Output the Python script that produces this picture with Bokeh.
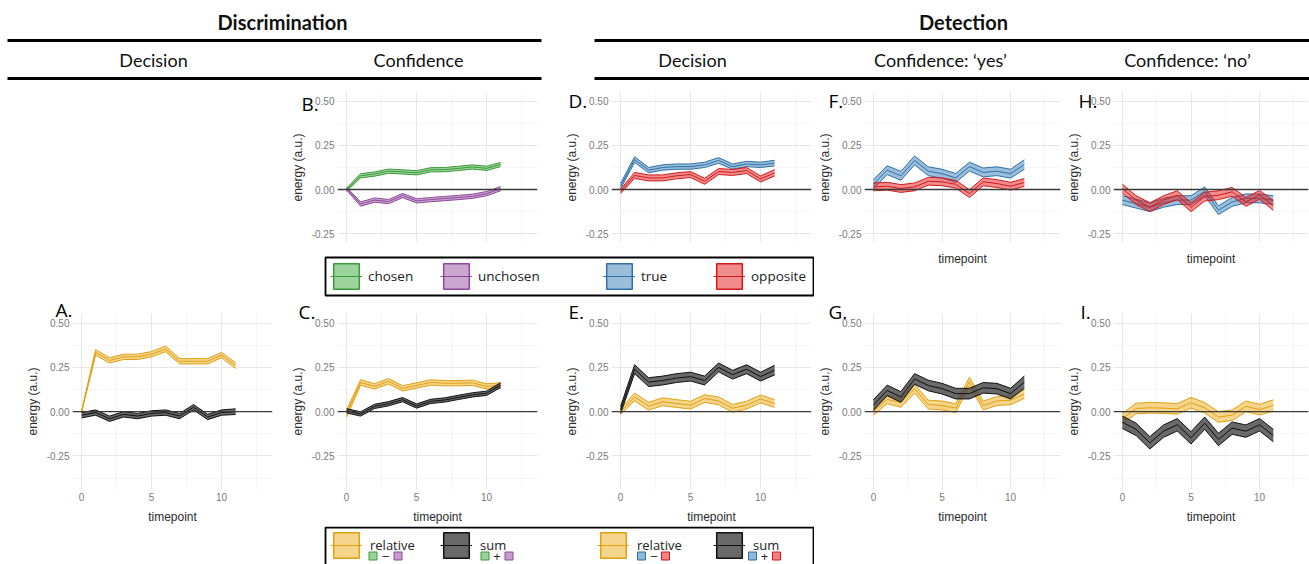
import numpy as np
from bokeh.plotting import figure
from bokeh.layouts import column, row
from bokeh.models import (Range1d, FixedTicker, Span, Legend, LegendItem,
                          Spacer, PrintfTickFormatter, ColumnDataSource)
from bokeh.embed import file_html
from bokeh.resources import INLINE
from bokeh.core.properties import value

# x axis: timepoints, y axis: energy (a.u.)
timepoints = list(range(12))
x_ticks = [0, 5, 10]
x_minor = [2.5, 7.5, 12.5]
y_ticks = [-0.25, 0.0, 0.25, 0.5]
y_minor = [-0.375, -0.125, 0.125, 0.375]

# A. Discrimination / decision
a_relative = [0.00, 0.335, 0.29, 0.31, 0.31, 0.325, 0.355, 0.285, 0.285, 0.285, 0.32, 0.26]
a_relative_se = [0.004, 0.016, 0.015, 0.015, 0.015, 0.015, 0.016, 0.015, 0.015, 0.015, 0.015, 0.016]
a_sum = [-0.02, -0.005, -0.04, -0.015, -0.025, -0.01, -0.005, -0.025, 0.025, -0.03, -0.005, 0.0]
a_sum_se = [0.015, 0.015, 0.015, 0.015, 0.015, 0.015, 0.015, 0.015, 0.015, 0.015, 0.015, 0.016]

# B. Discrimination / confidence
b_chosen = [0.0, 0.078, 0.088, 0.104, 0.1, 0.095, 0.112, 0.113, 0.12, 0.128, 0.12, 0.142]
b_chosen_se = [0.008, 0.012, 0.012, 0.012, 0.012, 0.012, 0.012, 0.012, 0.012, 0.012, 0.012, 0.012]
b_unchosen = [0.005, -0.082, -0.06, -0.068, -0.034, -0.064, -0.057, -0.051, -0.045, -0.038, -0.023, 0.005]
b_unchosen_se = [0.008, 0.012, 0.012, 0.012, 0.012, 0.012, 0.012, 0.012, 0.012, 0.012, 0.012, 0.012]

# C. Discrimination / confidence, relative and sum
c_relative = [-0.01, 0.165, 0.143, 0.172, 0.132, 0.148, 0.165, 0.161, 0.161, 0.163, 0.143, 0.148]
c_relative_se = [0.02, 0.016, 0.015, 0.015, 0.015, 0.015, 0.015, 0.015, 0.015, 0.015, 0.015, 0.015]
c_sum = [0.005, -0.013, 0.03, 0.045, 0.068, 0.032, 0.058, 0.066, 0.081, 0.095, 0.104, 0.15]
c_sum_se = [0.012, 0.012, 0.012, 0.012, 0.012, 0.012, 0.012, 0.012, 0.012, 0.012, 0.012, 0.014]

# D. Detection / decision
d_true = [0.02, 0.17, 0.11, 0.125, 0.13, 0.13, 0.14, 0.165, 0.13, 0.145, 0.14, 0.15]
d_true_se = [0.015, 0.016, 0.015, 0.015, 0.015, 0.015, 0.015, 0.016, 0.015, 0.015, 0.015, 0.016]
d_opposite = [-0.01, 0.08, 0.066, 0.066, 0.078, 0.085, 0.047, 0.102, 0.097, 0.108, 0.06, 0.095]
d_opposite_se = [0.012, 0.017, 0.017, 0.017, 0.017, 0.017, 0.017, 0.017, 0.017, 0.017, 0.017, 0.018]

# E. Detection / decision, relative and sum
e_relative = [0.0, 0.083, 0.031, 0.056, 0.046, 0.037, 0.074, 0.061, 0.019, 0.037, 0.072, 0.046]
e_relative_se = [0.015, 0.022, 0.022, 0.022, 0.022, 0.022, 0.022, 0.022, 0.022, 0.022, 0.022, 0.022]
e_sum = [0.01, 0.24, 0.167, 0.176, 0.19, 0.198, 0.176, 0.25, 0.209, 0.24, 0.198, 0.235]
e_sum_se = [0.02, 0.025, 0.025, 0.025, 0.025, 0.025, 0.025, 0.025, 0.025, 0.025, 0.025, 0.027]

# F. Detection / confidence 'yes'
f_true = [0.03, 0.11, 0.078, 0.165, 0.104, 0.09, 0.066, 0.13, 0.097, 0.104, 0.09, 0.142]
f_true_se = [0.025, 0.025, 0.025, 0.025, 0.025, 0.025, 0.025, 0.025, 0.025, 0.025, 0.025, 0.027]
f_opposite = [0.015, 0.019, 0.006, 0.015, 0.047, 0.044, 0.03, -0.023, 0.044, 0.034, 0.019, 0.04]
f_opposite_se = [0.022, 0.022, 0.022, 0.022, 0.022, 0.022, 0.022, 0.022, 0.022, 0.022, 0.022, 0.022]

# G. Detection / confidence 'yes', relative and sum
g_relative = [0.0, 0.07, 0.05, 0.13, 0.04, 0.035, 0.02, 0.17, 0.035, 0.06, 0.065, 0.1]
g_relative_se = [0.02, 0.025, 0.025, 0.025, 0.025, 0.025, 0.025, 0.025, 0.025, 0.025, 0.025, 0.025]
g_sum = [0.037, 0.12, 0.083, 0.185, 0.148, 0.13, 0.102, 0.102, 0.135, 0.13, 0.102, 0.167]
g_sum_se = [0.03, 0.03, 0.03, 0.03, 0.03, 0.03, 0.03, 0.03, 0.03, 0.03, 0.03, 0.035]

# H. Detection / confidence 'no'
h_true = [-0.06, -0.08, -0.1, -0.075, -0.06, -0.06, -0.01, -0.117, -0.07, -0.05, -0.05, -0.06]
h_true_se = [0.025, 0.025, 0.025, 0.025, 0.025, 0.025, 0.025, 0.025, 0.025, 0.025, 0.025, 0.025]
h_opposite = [0.005, -0.06, -0.1, -0.06, -0.032, -0.1, -0.04, -0.032, -0.013, -0.07, -0.03, -0.09]
h_opposite_se = [0.025, 0.025, 0.025, 0.025, 0.025, 0.025, 0.025, 0.025, 0.025, 0.025, 0.025, 0.028]

# I. Detection / confidence 'no', relative and sum
i_relative = [-0.04, 0.018, 0.022, 0.02, 0.016, 0.05, 0.022, -0.03, -0.02, 0.03, 0.012, 0.035]
i_relative_se = [0.03, 0.03, 0.03, 0.03, 0.03, 0.03, 0.03, 0.03, 0.03, 0.03, 0.03, 0.032]
i_sum = [-0.06, -0.1, -0.176, -0.11, -0.074, -0.148, -0.065, -0.157, -0.093, -0.11, -0.074, -0.135]
i_sum_se = [0.035, 0.035, 0.035, 0.035, 0.035, 0.035, 0.035, 0.035, 0.035, 0.035, 0.035, 0.035]

# line colour, fill colour, fill alpha
STYLE = {
    "chosen": ("#3A9B3A", "#4DAF4A", 0.55),
    "unchosen": ("#8E479C", "#984EA3", 0.5),
    "true": ("#2F70A8", "#377EB8", 0.5),
    "opposite": ("#D41A1C", "#E41A1C", 0.5),
    "relative": ("#E0A012", "#EDB12E", 0.55),
    "sum": ("#111111", "#444444", 0.8),
}

TICK_FONT = "Liberation Sans"
TEXT_FONT = "Open Sans"


def ribbon(p, mean, se, kind):
    line_c, fill_c, alpha = STYLE[kind]
    src = ColumnDataSource(dict(
        t=timepoints, mean=mean,
        lo=[m - s for m, s in zip(mean, se)],
        hi=[m + s for m, s in zip(mean, se)]))
    p.varea(x="t", y1="lo", y2="hi", source=src, fill_color=fill_c, fill_alpha=alpha)
    for col in ("lo", "hi", "mean"):
        p.line(x="t", y=col, source=src, line_color=line_c, line_width=1)


def make_panel(width, left, frame_w, height, top, bottom, y_lim, letter, letter_dx, letter_dy,
               series, x_title=None, x_labels=True):
    x_lim = (-0.65, -0.65 + frame_w / 14.0)
    p = figure(width=width, height=height, output_backend="svg", toolbar_location=None,
               x_range=Range1d(*x_lim), y_range=Range1d(*y_lim),
               min_border_left=left, min_border_right=width - left - frame_w,
               min_border_top=top, min_border_bottom=bottom)
    p.outline_line_color = None
    xt = FixedTicker(ticks=x_ticks, minor_ticks=x_minor)
    yt = FixedTicker(ticks=y_ticks, minor_ticks=y_minor)
    p.xaxis.ticker = xt if x_labels else FixedTicker(ticks=[])
    p.xgrid.ticker = xt
    p.yaxis.ticker = yt
    p.ygrid.ticker = yt
    p.yaxis.formatter = PrintfTickFormatter(format="%.2f")
    for ax in (p.xaxis[0], p.yaxis[0]):
        ax.axis_line_color = None
        ax.major_tick_line_color = None
        ax.minor_tick_line_color = None
        ax.major_tick_out = 0
        ax.major_tick_in = 0
        ax.minor_tick_out = 0
        ax.major_label_text_font = TICK_FONT
        ax.major_label_text_font_size = "10px"
        ax.major_label_text_color = "#7a7a7a"
        ax.major_label_standoff = 3
        ax.axis_label_text_font = TICK_FONT
        ax.axis_label_text_font_size = "12px"
        ax.axis_label_text_font_style = "normal"
        ax.axis_label_text_color = "#2b2b2b"
    p.yaxis.axis_label = "energy (a.u.)"
    p.yaxis.axis_label_standoff = 4
    if x_title:
        p.xaxis.axis_label = x_title
    p.xaxis.axis_label_standoff = 6 if x_labels else 9
    for g in (p.xgrid[0], p.ygrid[0]):
        g.grid_line_color = "#E6E6E6"
        g.grid_line_width = 1
        g.minor_grid_line_color = "#F3F3F3"
        g.minor_grid_line_width = 0.8
    p.add_layout(Span(location=0, dimension="width", line_color="#3a3a3a", line_width=1.4))
    for mean, se, kind in series:
        ribbon(p, mean, se, kind)
    # panel letter as the plot title, pulled left of and down beside the frame top
    p.title.text = letter
    p.title.align = "left"
    p.title.offset = letter_dx
    p.title.vertical_align = "bottom"
    p.title.standoff = -2 * (letter_dy + 5)
    p.title.text_font = TEXT_FONT
    p.title.text_font_size = "19px"
    p.title.text_font_style = "normal"
    p.title.text_color = "black"
    return p


ROW1 = (-0.30, 0.55)
ROW2 = (-0.44, 0.555)

panel_b = make_panel(274, 50, 200, 171, 8, 13, ROW1, "B.", -36, 19,
                     [(b_chosen, b_chosen_se, "chosen"), (b_unchosen, b_unchosen_se, "unchosen")],
                     x_labels=False)
panel_d = make_panel(252, 50, 200, 171, 8, 13, ROW1, "D.", -43, 16,
                     [(d_true, d_true_se, "true"), (d_opposite, d_opposite_se, "opposite")],
                     x_labels=False)
panel_f = make_panel(249, 46, 200, 213, 8, 55, ROW1, "F.", -36, 16,
                     [(f_true, f_true_se, "true"), (f_opposite, f_opposite_se, "opposite")],
                     x_title="timepoint", x_labels=False)
panel_h = make_panel(247, 46, 199, 213, 8, 55, ROW1, "H.", -35, 16,
                     [(h_true, h_true_se, "true"), (h_opposite, h_opposite_se, "opposite")],
                     x_title="timepoint", x_labels=False)

panel_a = make_panel(287, 72, 200, 229, 16, 36, ROW2, "A.", -17, 4,
                     [(a_relative, a_relative_se, "relative"), (a_sum, a_sum_se, "sum")],
                     x_title="timepoint")
panel_c = make_panel(274, 50, 200, 229, 16, 36, ROW2, "C.", -39, 6,
                     [(c_relative, c_relative_se, "relative"), (c_sum, c_sum_se, "sum")],
                     x_title="timepoint")
panel_e = make_panel(252, 50, 200, 229, 16, 36, ROW2, "E.", -43, 6,
                     [(e_relative, e_relative_se, "relative"), (e_sum, e_sum_se, "sum")],
                     x_title="timepoint")
panel_g = make_panel(249, 46, 200, 229, 16, 36, ROW2, "G.", -36, 6,
                     [(g_relative, g_relative_se, "relative"), (g_sum, g_sum_se, "sum")],
                     x_title="timepoint")
panel_i = make_panel(247, 46, 199, 229, 16, 36, ROW2, "I.", -33, 6,
                     [(i_relative, i_relative_se, "relative"), (i_sum, i_sum_se, "sum")],
                     x_title="timepoint")

NO_DATA = np.array([np.nan])


def legend_entry(fig, kind, label, vx, vy, glyph, standoff, font_size):
    line_c, fill_c, alpha = STYLE[kind]
    pr = fig.patch(x=NO_DATA, y=NO_DATA, fill_color=fill_c, fill_alpha=alpha,
                   line_color=line_c, line_width=1.5)
    lr = fig.line(x=NO_DATA, y=NO_DATA, line_color=line_c, line_width=1.2)
    fig.add_layout(Legend(items=[LegendItem(label=label, renderers=[pr, lr])],
                          location=(vx, vy), padding=0, margin=0,
                          border_line_color=None, background_fill_alpha=0,
                          glyph_width=glyph, glyph_height=glyph, label_standoff=standoff,
                          label_text_font=TEXT_FONT, label_text_font_size=font_size,
                          label_text_color="#222222"))


# top legend (chosen / unchosen / true / opposite)
legend_top_kinds = ["chosen", "unchosen", "true", "opposite"]
leg1 = figure(width=491, height=42, output_backend="svg", toolbar_location=None,
              x_axis_type=None, y_axis_type=None, x_range=Range1d(0, 1), y_range=Range1d(0, 1),
              min_border_left=2, min_border_right=1, min_border_top=2, min_border_bottom=2)
leg1.outline_line_color = "black"
leg1.outline_line_width = 1.8
for kind, vx in zip(legend_top_kinds, [5, 115, 278, 388]):
    legend_entry(leg1, kind, kind, vx, 3, 32, 6, "13.5px")

# bottom legend (relative / sum, with their colour keys)
legend_bottom_kinds = ["relative", "sum", "relative", "sum"]
leg2 = figure(width=491, height=38, output_backend="svg", toolbar_location=None,
              x_axis_type=None, y_axis_type=None, x_range=Range1d(0, 491), y_range=Range1d(38, 0),
              min_border=0)
leg2.outline_line_color = None
leg2.multi_line(xs=[[2, 2, 490, 490]], ys=[[38, 1, 1, 38]], line_color="black", line_width=1.8)
for kind, vx in zip(legend_bottom_kinds, [7, 117, 274, 390]):
    legend_entry(leg2, kind, kind, vx, 3, 32, 8, "13px")

key_kinds = ["chosen", "unchosen", "chosen", "unchosen", "true", "opposite", "true", "opposite"]
key_x = [49.5, 74.5, 161.5, 185.5, 318, 342, 429, 453]
leg2.rect(x=key_x, y=[29.5] * 8, width=8, height=8,
          fill_color=[STYLE[k][1] for k in key_kinds], fill_alpha=0.55,
          line_color=[STYLE[k][0] for k in key_kinds], line_width=1)
leg2.text(x=[62, 173.5, 330.5, 441], y=[29.5] * 4, text=["\u2212", "+", "\u2212", "+"],
          text_font=value(TEXT_FONT), text_font_size=value("13px"), text_color="#222222",
          text_align="center", text_baseline="middle")

# header with section titles and rules
header = figure(width=1309, height=84, output_backend="svg", toolbar_location=None,
                x_axis_type=None, y_axis_type=None, x_range=Range1d(0, 1309), y_range=Range1d(84, 0),
                min_border=0)
header.outline_line_color = None
header.text(x=[282, 963], y=[21, 21], text=["Discrimination", "Detection"],
            text_font=value("Lato"), text_font_style="bold", text_font_size=value("20px"),
            text_color="#111111", text_align="center", text_baseline="middle")
header.text(x=[153, 418, 692, 940, 1187], y=[59] * 5,
            text=["Decision", "Confidence", "Decision", "Confidence: \u2018yes\u2019", "Confidence: \u2018no\u2019"],
            text_font=value("Lato"), text_font_size=value("18px"),
            text_color="#111111", text_align="center", text_baseline="middle")
header.multi_line(xs=[[7, 541], [594, 1309], [7, 541], [594, 1309]],
                  ys=[[40, 40], [40, 40], [78, 78], [78, 78]], line_color="black", line_width=3)

col_a = column(Spacer(width=287, height=213), panel_a)
col_mid = column(row(panel_b, panel_d),
                 row(Spacer(width=36, height=42), leg1),
                 row(panel_c, panel_e),
                 row(Spacer(width=36, height=38), leg2))
col_right = column(row(panel_f, panel_h), row(panel_g, panel_i))
layout = column(header, row(col_a, col_mid, col_right))

open("out.html", "w").write(file_html(layout, INLINE))
